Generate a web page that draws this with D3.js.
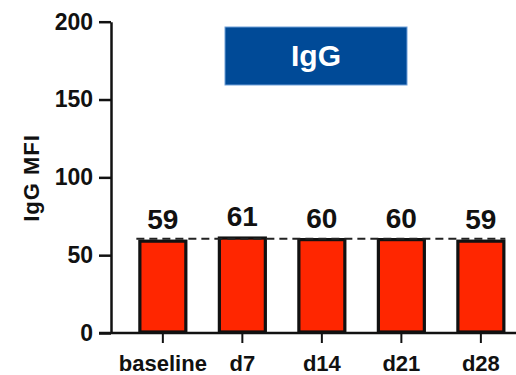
<!DOCTYPE html>
<html>
<head>
<meta charset="utf-8">
<script src="https://cdn.jsdelivr.net/npm/d3@7"></script>
<style>
  html, body { margin: 0; padding: 0; background: #fff; }
  svg { display: block; font-family: "Liberation Sans", Arial, Helvetica, sans-serif; font-weight: bold; }
</style>
</head>
<body>
<svg id="chart" width="516" height="375"></svg>
<script>
// Mean IgG fluorescence per sampling day
const categories = ["baseline", "d7", "d14", "d21", "d28"];
const values = [59, 61, 60, 60, 59];
const yTicks = [0, 50, 100, 150, 200];
const referenceLevel = [60.5];
const panelTitle = "IgG";
const yTitle = "IgG MFI";

const svg = d3.select("#chart");
const axisX = 111, baseY = 333, topY = 21.7;

const y = d3.scaleLinear().domain([0, 200]).range([baseY, topY]);
const x = d3.scaleBand()
  .domain(categories)
  .range([axisX, 516])
  .paddingInner(0.384)
  .paddingOuter(0.239)
  .align(0.72);

// Title banner
const banner = svg.append("g");
banner.append("rect")
  .attr("x", 225).attr("y", 27).attr("width", 182).attr("height", 58)
  .attr("fill", "#004a97").attr("stroke", "#6f9fd8").attr("stroke-width", 1);
banner.append("text")
  .attr("x", 316).attr("y", 66)
  .attr("text-anchor", "middle")
  .attr("fill", "#fff")
  .attr("font-size", 30)
  .text(panelTitle);

// Bars
svg.append("g").selectAll("rect")
  .data(values)
  .join("rect")
  .attr("x", (d, i) => x(categories[i]) + 1.5)
  .attr("y", d => y(d))
  .attr("width", x.bandwidth() - 3)
  .attr("height", d => baseY - y(d) - 1)
  .attr("fill", "#ff2600")
  .attr("stroke", "#111")
  .attr("stroke-width", 3.2);

// Dashed reference line
svg.append("g").selectAll("line")
  .data(referenceLevel)
  .join("line")
  .attr("x1", x(categories[0]) - 2)
  .attr("x2", x(categories[categories.length - 1]) + x.bandwidth())
  .attr("y1", d => y(d)).attr("y2", d => y(d))
  .attr("stroke", "#222")
  .attr("stroke-width", 2)
  .attr("stroke-dasharray", "8,5");

// Value labels
svg.append("g").selectAll("text")
  .data(values)
  .join("text")
  .attr("x", (d, i) => x(categories[i]) + x.bandwidth() / 2)
  .attr("y", d => y(d) - 12)
  .attr("text-anchor", "middle")
  .attr("font-size", 28)
  .attr("fill", "#111")
  .text(d => d);

// Y axis
const yAxis = svg.append("g")
  .attr("transform", `translate(${axisX},0)`)
  .call(d3.axisLeft(y).tickValues(yTicks).tickSize(12).tickSizeOuter(0).tickPadding(6));
yAxis.select(".domain").attr("stroke", "#111").attr("stroke-width", 2.5);
yAxis.selectAll(".tick line").attr("stroke", "#111").attr("stroke-width", 2.5);
yAxis.selectAll(".tick text")
  .attr("font-size", 23).attr("font-family", "Liberation Sans, Arial, sans-serif")
  .attr("font-weight", "bold").attr("fill", "#111");

// X axis
const xAxis = svg.append("g")
  .attr("transform", `translate(0,${baseY})`)
  .call(d3.axisBottom(x).tickSize(10).tickSizeOuter(0).tickPadding(12));
xAxis.select(".domain").attr("stroke", "#111").attr("stroke-width", 2.5)
  .attr("d", `M${axisX - 12},0H516`);
xAxis.selectAll(".tick line").attr("stroke", "#111").attr("stroke-width", 2);
xAxis.selectAll(".tick text")
  .attr("font-size", 22).attr("font-family", "Liberation Sans, Arial, sans-serif")
  .attr("font-weight", "bold").attr("fill", "#111");

// Y axis title
svg.append("text")
  .attr("transform", "translate(39,178) rotate(-90)")
  .attr("text-anchor", "middle")
  .attr("font-size", 22)
  .attr("letter-spacing", 1)
  .attr("fill", "#111")
  .text(yTitle);
</script>
</body>
</html>
